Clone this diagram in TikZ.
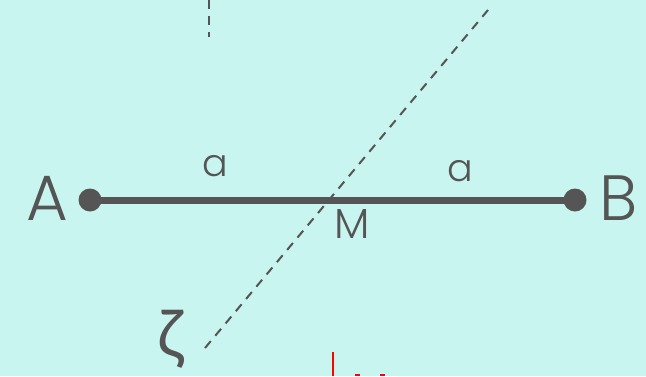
\documentclass[tikz,border=0pt]{standalone}
\usepackage{fontspec}
\IfFontExistsTF{Poppins Light}{\setmainfont{Poppins Light}}{\setmainfont{Poppins}}
\newfontfamily\greekfont{Lato}
\definecolor{bgc}{HTML}{C8F5F0}
\definecolor{ink}{HTML}{555555}
\begin{document}
\begin{tikzpicture}[x=1pt,y=-1pt,
  lbl/.style={text=ink,inner sep=0pt,anchor=center},
  dashline/.style={draw=ink,line width=2pt,dash pattern=on 9pt off 7pt},
  dot/.style={circle,fill=ink,minimum size=23pt,inner sep=0pt}]
\fill[bgc] (0,0) rectangle (646,376);
\useasboundingbox (0,0) rectangle (646,376);
\node[dot] (A) at (90,200) {};
\node[dot] (B) at (575,200) {};
\draw[ink,line width=7pt] (A.center) -- (B.center);
\coordinate (T1) at (209,0);
\coordinate (T2) at (209,37);
\draw[dashline] (T1) -- (T2);
\coordinate (D1) at (205,348);
\coordinate (D2) at (488,10);
\draw[dashline] (D1) -- (D2);
\node[lbl,font=\fontsize{64}{64}\selectfont] (la) at (47,198) {A};
\node[lbl,font=\fontsize{64}{64}\selectfont] (lb) at (619,198) {B};
\node[lbl,font=\fontsize{38}{38}\selectfont] (a1) at (215,166) {a};
\node[lbl,font=\fontsize{38}{38}\selectfont] (a2) at (460,171) {a};
\node[lbl,font=\fontsize{42}{42}\selectfont] (m) at (352,224) {M};
\node[lbl,font=\greekfont\fontsize{66}{66}\selectfont] (z) at (170,339) {ζ};
\coordinate (R1) at (333,352);
\coordinate (R2) at (333,376);
\draw[red,line width=2.5pt] (R1) -- (R2);
\fill[red] (355,373.5) rectangle (360,376);
\fill[red] (380,373.5) rectangle (385,376);
\end{tikzpicture}
\end{document}
